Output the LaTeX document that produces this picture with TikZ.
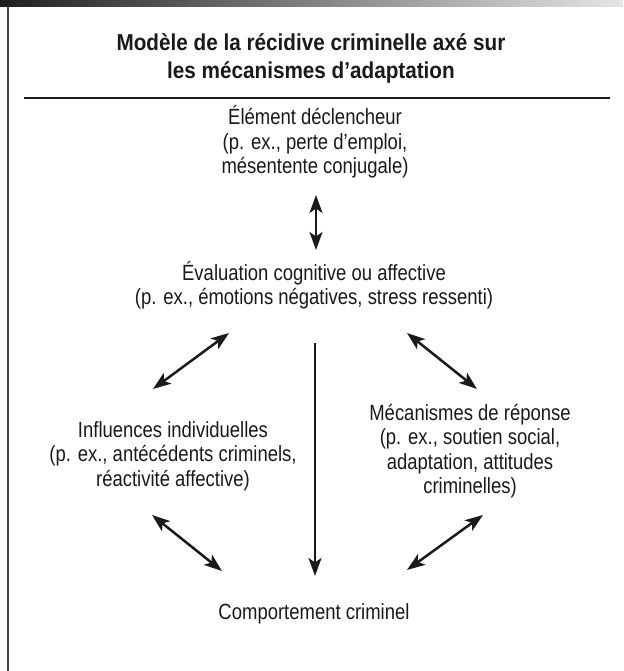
\documentclass[tikz,border=0pt]{standalone}
\usepackage{fontspec}
\setmainfont{Liberation Sans}[FakeStretch=0.84]
\newfontfamily\titlefont{Liberation Sans Bold}[FakeStretch=0.9]
\usetikzlibrary{arrows.meta}
\definecolor{ink}{HTML}{1A1A1A}
\tikzset{
  lbl/.style={align=center, text=ink, font=\fontsize{22}{24.5}\selectfont, inner sep=0pt},
  tip/.tip={Stealth[length=18pt,width=13pt,inset=4.5pt]},
  dbl/.style={line width=2.5pt, draw=ink, tip-tip},
  sgl/.style={line width=2.5pt, draw=ink, -tip}
}
\begin{document}
\begin{tikzpicture}[x=1pt,y=-1pt]
\useasboundingbox (0,0) rectangle (623,671);
\fill[white] (0,0) rectangle (623,671);
\shade[left color=black!88, right color=black!10] (0,0) rectangle (623,6.5);
\draw[line width=1.5pt, draw=black!75] (8,6) -- (8,671);
\node[text=ink, align=center, font=\titlefont\fontsize{23}{28}\selectfont, inner sep=0pt] (title) at (311,58)
  {Modèle de la récidive criminelle axé sur\\les mécanismes d’adaptation};
\draw[line width=2pt, draw=ink] (24,98) -- (610,98);
\node[lbl] (top) at (315,142) {Élément déclencheur\\(p. ex., perte d’emploi,\\mésentente conjugale)};
\node[lbl] (mid) at (314,285) {Évaluation cognitive ou affective\\(p. ex., émotions négatives, stress ressenti)};
\node[lbl] (left) at (173,456) {Influences individuelles\\(p. ex., antécédents criminels,\\réactivité affective)};
\node[lbl] (right) at (470,451) {Mécanismes de réponse\\(p. ex., soutien social,\\adaptation, attitudes\\criminelles)};
\node[lbl] (bot) at (314,614) {Comportement criminel};
\coordinate (t1) at (316,195);
\coordinate (t2) at (316,250);
\coordinate (v1) at (315,343);
\coordinate (v2) at (315,576);
\coordinate (lu1) at (229,333);
\coordinate (lu2) at (153,389);
\coordinate (ru1) at (407,333);
\coordinate (ru2) at (477,389);
\coordinate (ll1) at (152,515);
\coordinate (ll2) at (222,571);
\coordinate (rl1) at (483,515);
\coordinate (rl2) at (407,570);
\draw[dbl] (t1) -- (t2);
\draw[sgl] (v1) -- (v2);
\draw[dbl] (lu1) -- (lu2);
\draw[dbl] (ru1) -- (ru2);
\draw[dbl] (ll1) -- (ll2);
\draw[dbl] (rl1) -- (rl2);
\end{tikzpicture}
\end{document}
